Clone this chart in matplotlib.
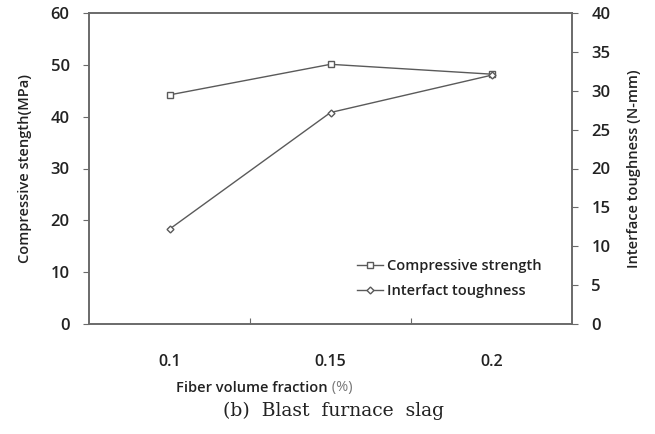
import matplotlib
matplotlib.use('Agg')
import matplotlib.pyplot as plt

plt.rcParams['font.family'] = ['Open Sans', 'DejaVu Sans']
plt.rcParams['font.weight'] = 'semibold'
plt.rcParams['axes.labelweight'] = 'semibold'

categories = ['0.1', '0.15', '0.2']
compressive = [44.2, 50.1, 48.2]
toughness = [12.2, 27.2, 32.0]

line_col = '#5a5a5a'
axis_col = '#6a6a6a'
text_col = '#222222'

fig = plt.figure(figsize=(6.55, 4.34), dpi=100)
ax = fig.add_axes([89/655, 1-324/434, (572-89)/655, (324-13)/434])
ax2 = ax.twinx()

x = list(range(len(categories)))
p1, = ax.plot(x, compressive, color=line_col, lw=1, marker='s', ms=4.5,
              mfc='white', mec=line_col, mew=1)
p2, = ax2.plot(x, toughness, color=line_col, lw=1, marker='D', ms=3.5,
               mfc='white', mec=line_col, mew=1)

ax.set_xlim(-0.5, 2.5)
ax.set_ylim(0, 60)
ax2.set_ylim(0, 40)
ax.set_yticks(range(0, 61, 10))
ax2.set_yticks(range(0, 41, 5))

ax.set_xticks([0.5, 1.5])
ax.set_xticklabels([])
ax.tick_params(axis='x', direction='in', length=4, color=axis_col)
for i, c in enumerate(categories):
    ax.text(i, -0.095, c, transform=ax.get_xaxis_transform(), ha='center',
            va='top', fontsize=11.5, color=text_col)

ax.tick_params(axis='y', direction='out', length=4, color=axis_col,
               labelsize=12, pad=10, labelcolor=text_col)
ax2.tick_params(axis='y', direction='out', length=4, color=axis_col,
                labelsize=12, pad=10, labelcolor=text_col)

for a in (ax, ax2):
    for s in a.spines.values():
        s.set_color(axis_col)
        s.set_linewidth(1.2)

ax.set_ylabel('Compressive stength(MPa)', fontsize=10.5, labelpad=13,
              color=text_col)
ax2.set_ylabel('Interface toughness (N-mm)', fontsize=10.5, labelpad=12,
               color=text_col)

fig.text(0.5, 1-388/434, 'Fiber volume fraction', ha='right', va='center',
         fontsize=10.5, color=text_col)
fig.text(0.5, 1-388/434, ' (%)', ha='left', va='center', fontsize=10.5,
         color='#777777', weight='normal')
fig.text(333/655, 1-411/434, '(b)  Blast  furnace  slag', ha='center',
         va='center', fontsize=13.5, family='DejaVu Serif', weight='normal',
         color=text_col)

leg = ax.legend([p1, p2], ['Compressive strength', 'Interfact toughness'],
                loc='lower right', bbox_to_anchor=(0.965, 0.04), frameon=False,
                fontsize=10.5, handlelength=1.8, handletextpad=0.3,
                labelspacing=0.75)
for t in leg.get_texts():
    t.set_color(text_col)

fig.savefig('out.png', dpi=100)
